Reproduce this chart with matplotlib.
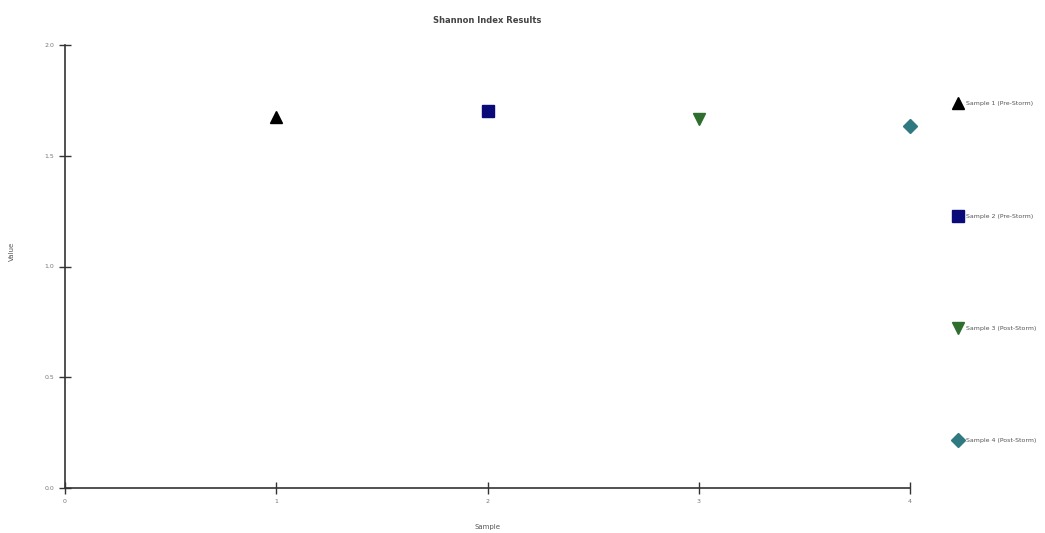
import matplotlib
matplotlib.use("Agg")
import matplotlib.pyplot as plt

samples = [1, 2, 3, 4]
values = [1.675, 1.70, 1.665, 1.635]
labels = ["Sample 1 (Pre-Storm)", "Sample 2 (Pre-Storm)", "Sample 3 (Post-Storm)", "Sample 4 (Post-Storm)"]
markers = ["^", "s", "v", "D"]
colors = ["#000000", "#0a0a78", "#2e6e2e", "#2f7a80"]
sizes = [9, 9, 9, 7]
xticks = [0, 1, 2, 3, 4]
yticks = [0.0, 0.5, 1.0, 1.5, 2.0]
ytick_labels = ["0.0", "0.5", "1.0", "1.5", "2.0"]

fig = plt.figure(figsize=(10.45, 5.33), dpi=100)
ax = fig.add_axes([65/1045, 1-488/533, (910-65)/1045, (488-45)/533])

handles = []
for x, y, lab, m, c, s in zip(samples, values, labels, markers, colors, sizes):
    h, = ax.plot([x], [y], linestyle="none", marker=m, color=c, markersize=s,
                 label=lab, clip_on=False)
    handles.append(h)

ax.set_xlim(0, 4)
ax.set_ylim(0, 2)
ax.set_xticks(xticks)
ax.set_xticklabels([str(t) for t in xticks])
ax.set_yticks(yticks)
ax.set_yticklabels(ytick_labels)
for s in ["top", "right"]:
    ax.spines[s].set_visible(False)
for s in ["left", "bottom"]:
    ax.spines[s].set_linewidth(1.2)
    ax.spines[s].set_color("#333333")
ax.tick_params(axis="both", direction="inout", length=8, width=1.0, color="#333333",
               labelsize=4.5, labelcolor="#777777", pad=4)

ax.set_title("Shannon Index Results", fontsize=6, color="#444444", pad=16, fontweight="bold")
ax.set_xlabel("Sample", fontsize=5, color="#555555", labelpad=14)
ax.set_ylabel("Value", fontsize=5, color="#555555")
ax.yaxis.set_label_coords(-50/845, 0.535)

leg = ax.legend(handles=handles, loc="upper left", bbox_to_anchor=(952/1045, 1-98/533),
                bbox_transform=fig.transFigure, frameon=False, fontsize=4.5,
                labelspacing=17.1, handlelength=0.8, handletextpad=0.9, borderpad=0,
                labelcolor="#555555")

fig.savefig("out.png", dpi=100)
